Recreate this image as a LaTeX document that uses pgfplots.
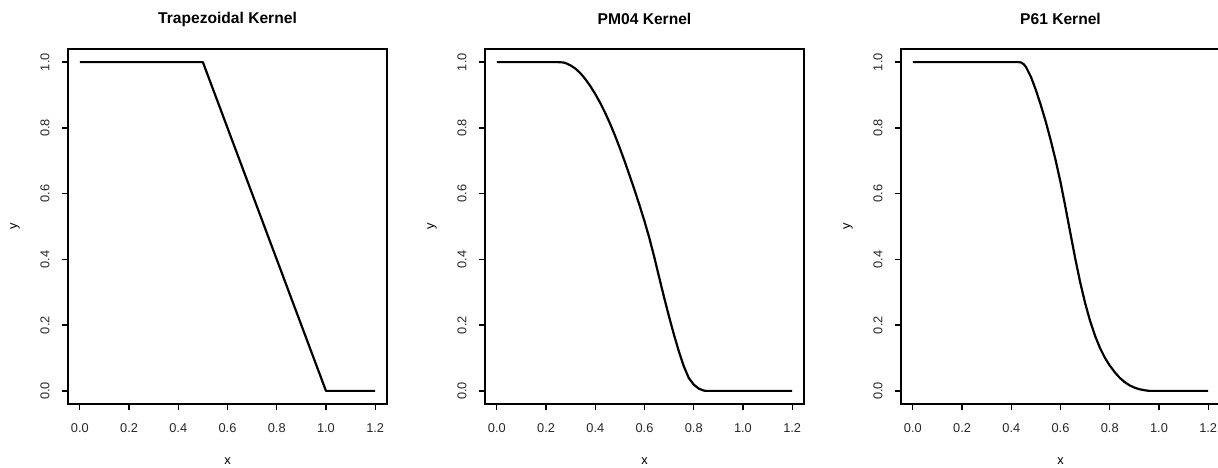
\documentclass[border=0pt]{standalone}
\usepackage{fontspec}
\setmainfont{Liberation Sans}
\usepackage{pgfplots}
\pgfplotsset{compat=1.18}

% Trapezoidal kernel
\pgfplotstableread{
x y
0.0 1.0
0.5 1.0
1.0 0.0
1.2 0.0
}\trapezoid

% PM04 kernel
\pgfplotstableread{
x y
0.00 1.000
0.25 1.000
0.27 0.999
0.28 0.997
0.30 0.990
0.32 0.980
0.34 0.966
0.36 0.948
0.38 0.927
0.40 0.903
0.42 0.876
0.44 0.846
0.46 0.813
0.48 0.777
0.50 0.738
0.52 0.697
0.54 0.654
0.56 0.610
0.58 0.564
0.60 0.516
0.62 0.464
0.64 0.406
0.66 0.344
0.68 0.283
0.70 0.225
0.72 0.170
0.74 0.119
0.76 0.074
0.78 0.039
0.80 0.019
0.82 0.007
0.84 0.001
0.85 0.000
1.20 0.000
}\pmkernel

% P61 kernel
\pgfplotstableread{
x y
0.00 1.000
0.43 1.000
0.44 0.999
0.45 0.994
0.46 0.985
0.48 0.955
0.50 0.915
0.52 0.869
0.54 0.819
0.56 0.763
0.58 0.702
0.60 0.635
0.62 0.559
0.64 0.480
0.66 0.402
0.68 0.330
0.70 0.267
0.72 0.213
0.74 0.168
0.76 0.131
0.78 0.101
0.80 0.077
0.82 0.057
0.84 0.040
0.86 0.027
0.88 0.017
0.90 0.010
0.92 0.005
0.94 0.002
0.96 0.000
1.20 0.000
}\pkernel

\pgfplotsset{
  kernelpanel/.style={
    scale only axis,
    width=159.5pt, height=177.5pt,
    xmin=-0.048, xmax=1.248,
    ymin=-0.04, ymax=1.04,
    xtick={0,0.2,0.4,0.6,0.8,1.0,1.2},
    ytick={0,0.2,0.4,0.6,0.8,1.0},
    tick align=outside,
    xtick pos=bottom, ytick pos=left,
    major tick length=3pt,
    axis line style={line width=0.65pt, black},
    every tick/.style={line width=0.65pt, black},
    /pgf/number format/.cd, fixed, fixed zerofill, precision=1, assume math mode=true,
    /pgfplots/.cd,
    tick label style={font=\fontsize{6.4}{7}\selectfont, text=black!85},
    xticklabel style={anchor=center, yshift=-9pt},
    yticklabel style={anchor=center, xshift=-8.5pt, rotate=90},
    label style={font=\fontsize{6.4}{7}\selectfont},
    xlabel={x}, ylabel={y},
    xlabel style={at={(axis description cs:0.5,-0.1606)}, anchor=center},
    ylabel style={at={(axis description cs:-0.166,0.5)}, anchor=center, rotate=0},
    every axis title shift=0pt,
    title style={font=\bfseries\fontsize{7.8}{9}\selectfont,
                 at={(axis description cs:0.5,1.0845)}, anchor=center, yshift=0pt},
  },
  kernelcurve/.style={black, line width=1.1pt, mark=none, line join=round},
}

\begin{document}
\begin{tikzpicture}
\useasboundingbox (0,0) rectangle (609pt,233.5pt);

\begin{axis}[kernelpanel, at={(34pt,31.5pt)}, anchor=south west,
  title={Trapezoidal Kernel}]
  \addplot[kernelcurve] table[x=x, y=y] {\trapezoid};
\end{axis}

\begin{axis}[kernelpanel, at={(242.5pt,31.5pt)}, anchor=south west,
  title={PM04 Kernel}]
  \addplot[kernelcurve] table[x=x, y=y] {\pmkernel};
\end{axis}

\begin{axis}[kernelpanel, at={(450.5pt,31.5pt)}, anchor=south west,
  title={P61 Kernel}]
  \addplot[kernelcurve] table[x=x, y=y] {\pkernel};
\end{axis}
\end{tikzpicture}
\end{document}
